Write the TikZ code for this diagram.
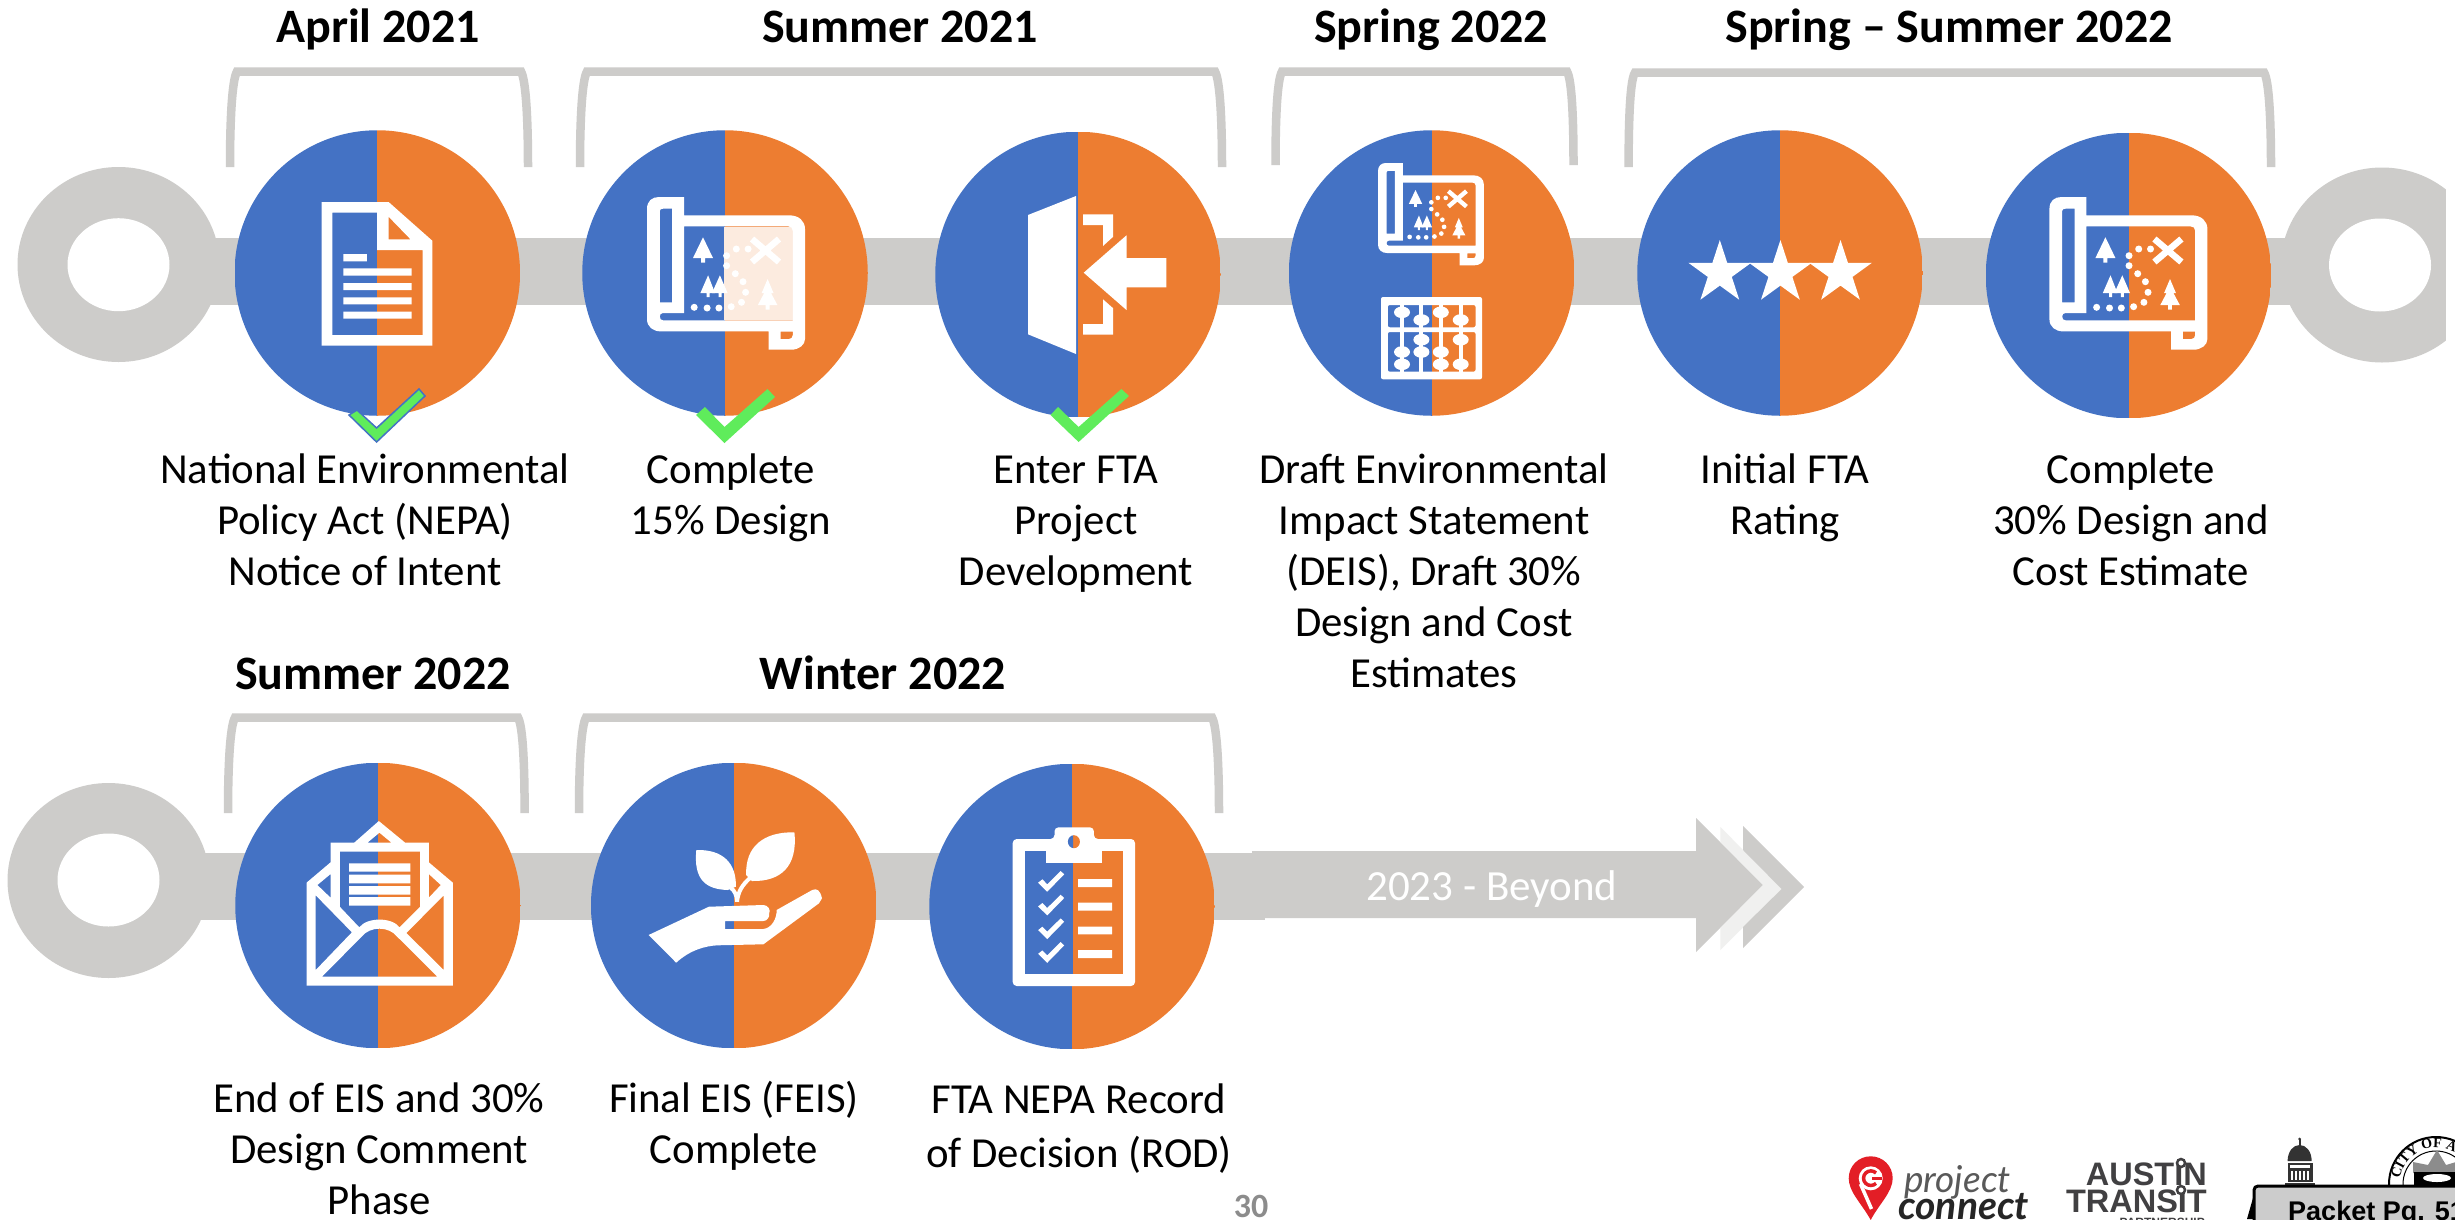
\documentclass[tikz,border=0pt]{standalone}
\usepackage{fontspec}
\setmainfont{Carlito}
\newfontfamily\arialf{Liberation Sans}
\newfontfamily\serifb{Liberation Serif}
\newfontfamily\latof{Lato}
\usetikzlibrary{shapes.geometric,decorations.text}
\definecolor{pcblue}{HTML}{4472C4}
\definecolor{pcorange}{HTML}{ED7D31}
\definecolor{pcgray}{HTML}{CDCCCA}
\definecolor{pcgreen}{HTML}{5FEC5B}
\definecolor{pcpale}{HTML}{FCEBDF}
\definecolor{pcred}{HTML}{E31E26}
\definecolor{pcdark}{HTML}{414042}
\newcommand{\fl}{\rule{0pt}{34pt}}
\tikzset{
  halfdisc/.style={circle,inner sep=0pt,minimum size=285.5pt,path picture={
     \fill[pcblue] (path picture bounding box.south west) rectangle (path picture bounding box.north);
     \fill[pcorange] (path picture bounding box.south) rectangle (path picture bounding box.north east);}},
  bracketline/.style={draw=pcgray,line width=8.5pt},
  bandline/.style={draw=pcgray,line width=67pt},
  ringouter/.style={ellipse,fill=pcgray,inner sep=0pt,minimum width=202pt,minimum height=195pt},
  ringhole/.style={ellipse,fill=white,inner sep=0pt,minimum width=102pt,minimum height=93pt},
  bodytext/.style={font=\fontsize{42.8}{51}\selectfont,align=center,inner sep=0pt,anchor=north,text=black},
  titletext/.style={font=\fontsize{48}{50}\selectfont\bfseries,inner sep=0pt,anchor=base,text=black},
  whitestar/.style={star,star points=5,star point ratio=2.618,fill=white,inner sep=0pt,minimum size=66pt},
  icon/.style={fill=white},
  chk/.style={fill=pcgreen},
}
\newcommand{\mapicon}[3]{%
\begin{scope}[shift={(#1,#2)},scale=#3]
\fill[white,even odd rule]
 (0,12) .. controls (0,4) and (5,0) .. (12,0) -- (37,0) -- (37,18.3) -- (142,18.3) .. controls (152,18.3) and (158,24) .. (158,32) -- (158,142) .. controls (158,148) and (152,152.7) .. (144,152.7) -- (121.7,152.7) -- (121.7,134.4) -- (14,134.4) .. controls (6,134.4) and (0,130) .. (0,122) -- cycle
 (12.8,14) .. controls (12.8,12.5) and (14,11.7) .. (16,11.7) -- (25.2,11.7) -- (25.2,105.3) -- (12.8,105.3) -- cycle
 (37,29.3) -- (141,29.3) .. controls (144,29.3) and (145.8,31) .. (145.8,34) -- (145.8,123.3) -- (16,123.3) .. controls (14,123.3) and (12.8,122) .. (12.8,119.5) .. controls (12.8,117.5) and (14,116) .. (16,116) -- (37,116) -- cycle
 (133.5,134.7) -- (145.8,134.7) -- (145.8,138) .. controls (145.8,140.5) and (144,142) .. (142,142) -- (133.5,142) -- cycle;
\fill[white] (56,40.3) -- (66,61) -- (58,61) -- (58,65.5) -- (54,65.5) -- (54,61) -- (46,61) -- cycle;
\fill[white] (61.1,78.3) -- (68,96) -- (62.6,96) -- (62.6,100) -- (59.6,100) -- (59.6,96) -- (53.4,96) -- cycle;
\fill[white] (72.9,78.3) -- (80.6,96) -- (74.5,96) -- (74.5,100) -- (71.5,100) -- (71.5,96) -- (65,96) -- cycle;
\fill[white] (120.6,82) -- (126.5,96) -- (124,96) -- (130.4,108) -- (122.5,108) -- (122.5,112.7) -- (118.7,112.7) -- (118.7,108) -- (110.9,108) -- (117.2,96) -- (114.7,96) -- cycle;
\pgfmathsetmacro{\xw}{6.5*#3}
\draw[white,line width=\xw pt] (105,42) -- (132,65) (132,42) -- (105,65);
\foreach \dx/\dy in {47.2/110.3,60.1/111,71.9/111,84.2/109.7,94.5/105.3,98.6/95.3,96/84.7,88.3/76.7,79.6/68.7,79.6/58.7,89.3/52,101.1/52}
  \fill[white] (\dx,\dy) circle (3.5);
\end{scope}}
\begin{document}
\begin{tikzpicture}[x=1pt,y=-1pt]
\useasboundingbox (0,0) rectangle (2455,1219);
\clip (0,0) rectangle (2455,1219);
\fill[white] (0,0) rectangle (2455,1219);
% brackets
\draw[bracketline] (230,167) .. controls (230,120) and (232,80) .. (237,71.5) -- (521,71.5) .. controls (526,80) and (528,120) .. (528,167);
\draw[bracketline] (580,167) .. controls (580,120) and (582,80) .. (587,71.5) -- (1215,71.5) .. controls (1220,80) and (1222,120) .. (1222,167);
\draw[bracketline] (1275.5,165) .. controls (1275.5,120) and (1277,80) .. (1282,71.5) -- (1567,71.5) .. controls (1572,80) and (1573.5,120) .. (1573.5,165);
\draw[bracketline] (1628.6,167) .. controls (1628.6,120) and (1630,80) .. (1635,72.5) -- (2264,72.5) .. controls (2269,80) and (2271,120) .. (2271,167);
\draw[bracketline] (228,813) .. controls (228,766) and (230,726) .. (235,717.5) -- (518,717.5) .. controls (523,726) and (524.6,766) .. (524.6,813);
\draw[bracketline] (579,813) .. controls (579,766) and (581,726) .. (586,717.5) -- (1212,717.5) .. controls (1217,726) and (1219,766) .. (1219,813);
% band row 1
\coordinate (b1s) at (190,271.5);
\coordinate (b1e) at (2310,271.5);
\draw[bandline] (b1s) -- (b1e);
\node[ringouter] (ringA) at (118.5,264.5) {};
\node[ringhole] (holeA) at (118.5,264.7) {};
\node[ringouter] (ringB) at (2382,265) {};
\node[ringhole] (holeB) at (2380,265) {};
\fill[white] (2446,100) rectangle (2455,400);
% band row 2 and arrow
\coordinate (b2s) at (180,886.5);
\coordinate (b2e) at (1265,886.5);
\draw[bandline] (b2s) -- (b2e);
\node[ringouter] (ringC) at (108.5,880.5) {};
\node[ringhole] (holeC) at (108.5,880) {};
\fill[pcgray] (1252,851) -- (1696,851) -- (1696,818) -- (1763,885) -- (1696,952) -- (1696,918) -- (1252,918) -- cycle;
\fill[pcgray!30] (1720.4,827) -- (1781.6,889) -- (1720.4,950) -- (1720.4,928) -- (1763,885) -- (1720.4,842) -- cycle;
\fill[pcgray] (1743,826) -- (1804,887) -- (1743,948) -- (1743,927) -- (1781.6,889) -- (1743,850) -- cycle;
\node[font=\fontsize{43}{48}\selectfont,text=white,inner sep=0pt,anchor=base] (beyond) at (1491.8,900) {2023 - Beyond};
% discs
\node[halfdisc] (c1) at (377.3,273) {};
\node[halfdisc] (c2) at (725,273) {};
\node[halfdisc] (c3) at (1078,274.5) {};
\node[halfdisc] (c4) at (1431.6,273) {};
\node[halfdisc] (c5) at (1780,273) {};
\node[halfdisc] (c6) at (2128.5,275.5) {};
\node[halfdisc] (c7) at (378,905.5) {};
\node[halfdisc] (c8) at (733.7,905.5) {};
\node[halfdisc] (c9) at (1072,906.5) {};
% document icon
\fill[white,even odd rule] (321.5,202) -- (388.6,202) -- (432.3,240.7) -- (432.3,345.7) -- (321.5,345.7) -- cycle
 (332.4,212.7) -- (377.2,212.7) -- (377.2,250) -- (422.5,250) -- (422.5,335) -- (332.4,335) -- cycle
 (388.6,216.7) -- (410.5,239.3) -- (388.6,239.3) -- cycle;
\fill[white] (343.3,254) rectangle (366.8,261.3) (343.3,268.3) rectangle (411.6,275.7) (343.3,283) rectangle (411.6,290) (343.3,297.3) rectangle (411.6,304.3) (343.3,311.7) rectangle (411.6,318.7);
% map icons
\fill[pcpale] (724,227) rectangle (792.8,320);
\mapicon{647}{197}{1}
\mapicon{1378}{163}{0.67}
\mapicon{2049.4}{197}{1}
% door icon
\fill[white] (1028,215) -- (1076,196) -- (1076,354) -- (1028,334.3) -- cycle;
\fill[white] (1083,214.3) -- (1113.2,214.3) -- (1113.2,236.7) -- (1103,246) -- (1103,225) -- (1083,225) -- cycle;
\fill[white] (1083,334.7) -- (1113.2,334.7) -- (1113.2,308.3) -- (1103,299.3) -- (1103,324) -- (1083,324) -- cycle;
\fill[white] (1083.7,272.7) -- (1126.5,235.3) -- (1126.5,258) -- (1166.3,258) -- (1166.3,287.3) -- (1126.5,287.3) -- (1126.5,310) -- cycle;
% abacus
\fill[white,even odd rule,rounded corners=2pt] (1381,297) rectangle (1482,379.3) (1387.8,305) rectangle (1475.6,327.3) (1387.8,332) rectangle (1475.6,371.7);
\draw[white,line width=4pt] (1402,300) -- (1402,375) (1421.4,300) -- (1421.4,375) (1440.8,300) -- (1440.8,375) (1460.7,300) -- (1460.7,375);
\foreach \bx/\by in {1402/312.3,1421.4/320,1440.8/312.3,1460.7/320,1421.4/339.7,1460.7/339.7,1402/352,1421.4/352,1440.8/352,1402/364.3,1440.8/364.3,1460.7/364.3}
  \fill[white] (\bx,\by) ellipse (8 and 5.8);
% stars
\node[whitestar] (s1) at (1719.8,273) {};
\node[whitestar] (s2) at (1780.4,273) {};
\node[whitestar] (s3) at (1840.5,273) {};
% envelope
\fill[white,even odd rule] (306.5,882.7) -- (330.6,862.3) -- (330.6,842.7) -- (354.2,842.7) -- (378.8,821) -- (405.2,842.7) -- (428.8,842.7) -- (428.8,862.3) -- (452.9,882.7) -- (452.9,985.7) -- (306.5,985.7) -- cycle
 (367.4,842.7) -- (379.4,832.7) -- (391.5,842.7) -- cycle
 (339.8,851.7) -- (420.2,851.7) -- (420.2,906.7) -- (399.5,927.3) .. controls (392,917) and (367,917) .. (359.3,927.3) -- (339.8,906.7) -- cycle
 (330.6,874) -- (317.4,885) -- (330.6,897.7) -- cycle
 (428.8,874) -- (440.8,885) -- (428.8,897.7) -- cycle
 (315.7,895.3) -- (351.9,932.3) -- (315.7,970) -- cycle
 (443.7,895.3) -- (406.4,933) -- (443.7,970) -- cycle
 (322,976.7) -- (361.6,936.7) .. controls (370,926) and (389,926) .. (397.2,936.7) -- (437.4,976.7) -- cycle;
\fill[white] (349,863.3) rectangle (410.4,871.7) (349,874.7) rectangle (410.4,883.3) (349,886) rectangle (410.4,894.7) (349,897) rectangle (410.4,905.7);
% plant and hand
\fill[white] (648.6,935) -- (708.9,906.7) -- (763.4,905) .. controls (768,905) and (771,910) .. (769.2,913.3) .. controls (770,917) and (767,921) .. (763.4,921) -- (725,921) -- (725,929) -- (763.4,929) .. controls (772,928) and (777,918) .. (776.6,910) -- (812.2,890) .. controls (817,888) and (820,890) .. (822,898.3) -- (819,903.3) -- (763.4,944.3) -- (717.5,945.3) .. controls (705,946) and (690,950) .. (676.2,962.7) -- cycle;
\fill[white] (696.3,850) .. controls (723.2,849.3) and (736.4,863.3) .. (735.9,886.7) -- (727.8,890) .. controls (706,889.3) and (693.4,880) .. (696.3,850) -- cycle;
\fill[white] (794.4,832.3) .. controls (763.4,831.7) and (745,846.7) .. (746.2,875) -- (751.9,881) .. controls (780.6,881.7) and (797.9,866.7) .. (794.4,832.3) -- cycle;
\draw[white,line width=4pt] (737,901.7) .. controls (737,895) and (734,890) .. (731,888);
\draw[white,line width=4pt] (737,901.7) .. controls (738,892) and (742,885) .. (750,878);
% clipboard
\fill[white,rounded corners=4pt] (1012.7,986) -- (1012.7,839) -- (1054.5,839) -- (1054.5,827.3) -- (1093.9,827.3) -- (1093.9,839) -- (1135,839) -- (1135,986) -- cycle;
\fill[pcblue] (1024.8,851) rectangle (1073,974);
\fill[pcorange] (1073,851) rectangle (1123,974);
\fill[white] (1046,845) rectangle (1101.8,863.3);
\begin{scope}
\clip (1073,830) rectangle (1090,855);
\fill[pcorange] (1073.9,841.7) ellipse (6 and 6.5);
\end{scope}
\begin{scope}
\clip (1060,830) rectangle (1073,855);
\fill[pcblue] (1073.9,841.7) ellipse (6 and 6.5);
\end{scope}
\foreach \rowy in {0,23.7,47.4,71.1}
  \fill[white] (1038.1,882.7+\rowy) -- (1042.4,879.3+\rowy) -- (1047.2,884.3+\rowy) -- (1060.6,871+\rowy) -- (1064.2,874.3+\rowy) -- (1047.2,891.7+\rowy) -- cycle;
\fill[white] (1078,879) rectangle (1112,887) (1078,902.7) rectangle (1112,910.7) (1078,926.7) rectangle (1112,934.3) (1078,950) rectangle (1112,958);
% check marks
\fill[chk,draw=pcblue,line width=1.5pt] (349,415) -- (357,410) -- (376.6,428) -- (419,389) -- (425,396) -- (376.6,442) -- cycle;
\fill[chk] (696,415) -- (705,407) -- (724.5,427) -- (767.5,389) -- (775,397) -- (724.5,443) -- cycle;
\fill[chk] (1050.5,415) -- (1058,407) -- (1078.6,427) -- (1121.4,389) -- (1129,396) -- (1078.6,442) -- cycle;
% titles
\node[titletext] (t1) at (378,42) {April 2021};
\node[titletext] (t2) at (900,42) {Summer 2021};
\node[titletext] (t3) at (1431,42) {Spring 2022};
\node[titletext] (t4) at (1949,42) {Spring – Summer 2022};
\node[titletext] (t5) at (373,689) {Summer 2022};
\node[titletext] (t6) at (883,689) {Winter 2022};
% captions
\node[bodytext] (l1) at (365,449) {\fl National Environmental\\Policy Act (NEPA)\\Notice of Intent};
\node[bodytext] (l2) at (731,449) {\fl Complete\\15\% Design};
\node[bodytext] (l3) at (1076,449) {\fl Enter FTA\\Project\\Development};
\node[bodytext] (l4) at (1434,449) {\fl Draft Environmental\\Impact Statement\\(DEIS), Draft 30\%\\Design and Cost\\Estimates};
\node[bodytext] (l5) at (1785,449) {\fl Initial FTA\\Rating};
\node[bodytext] (l6) at (2131,449) {\fl Complete\\30\% Design and\\Cost Estimate};
\node[bodytext] (l7) at (379,1078) {\fl End of EIS and 30\%\\Design Comment\\Phase};
\node[bodytext] (l8) at (734,1078) {\fl Final EIS (FEIS)\\Complete};
\node[bodytext,font=\fontsize{42.8}{54.5}\selectfont] (l9) at (1079,1079) {\fl FTA NEPA Record\\of Decision (ROD)};
% page number
\node[font=\fontsize{34}{36}\selectfont\bfseries,text=black!45,inner sep=0pt,anchor=base] (pageno) at (1251,1217) {30};
% project connect logo
\fill[pcred] (1870.7,1220) .. controls (1862,1204) and (1848.7,1192) .. (1848.7,1178.3) .. controls (1848.7,1166) and (1858.5,1156.3) .. (1870.7,1156.3) .. controls (1883,1156.3) and (1892.7,1166) .. (1892.7,1178.3) .. controls (1892.7,1192) and (1879,1204) .. (1870.7,1220) -- cycle;
\fill[white] (1870.7,1178.3) circle (12);
\draw[white,line width=3.5pt] (1860.5,1184) -- (1871.5,1209);
\draw[pcred,line width=3.5pt] (1876,1173) arc[start angle=-45,end angle=-315,radius=7.3];
\fill[pcred] (1872,1176.8) rectangle (1882,1180);
\node[font=\latof\itshape\fontsize{37}{40}\selectfont,text=black!65,inner sep=0pt,anchor=base west] (pj) at (1904,1192) {project};
\node[font=\latof\itshape\bfseries\fontsize{39}{42}\selectfont,text=black!85,inner sep=0pt,anchor=base west] (cn) at (1898,1219) {connect};
% austin transit logo
\node[font=\arialf\bfseries\fontsize{32.5}{34}\selectfont,text=pcdark,inner sep=0pt,anchor=base east] (at1) at (2207,1185) {AUSTIN};
\node[font=\arialf\bfseries\fontsize{32.5}{34}\selectfont,text=pcdark,inner sep=0pt,anchor=base east] (at2) at (2207,1212) {TRANSIT};
\node[font=\arialf\bfseries\fontsize{12}{14}\selectfont,text=pcdark,inner sep=0pt,anchor=base east] (at3) at (2205,1226) {PARTNERSHIP};
\draw[pcdark,line width=2.5pt,fill=white] (2181,1163) circle (4);
\draw[pcdark,line width=2.5pt,fill=white] (2181,1190) circle (4);
% capitol
\fill[black!80] (2299.7,1139) circle (1.5);
\fill[black!80] (2298.7,1139) rectangle (2300.7,1146);
\fill[black!80] (2287.5,1161) .. controls (2288,1151) and (2293,1145) .. (2299.7,1145) .. controls (2306,1145) and (2311.5,1151) .. (2311.7,1161) -- cycle;
\fill[black!80] (2287.5,1162.5) rectangle (2312.5,1182);
\fill[black!80] (2285,1183) rectangle (2315,1186);
\fill[white] (2290,1165) rectangle (2310,1167.5);
\foreach \wx in {2291,2295,2299,2303,2307}
  \fill[white] (\wx,1171) rectangle (\wx+2,1180);
% seal
\draw[black,line width=2pt] (2436,1184) circle (47);
\draw[black,line width=1pt] (2436,1184) circle (33);
\fill[black!45] (2413,1162) -- (2428,1165) -- (2437,1150) -- (2446,1165) -- (2456,1162) -- (2456,1173) -- (2413,1173) -- cycle;
\fill[black] (2414,1172) rectangle (2456,1186);
\fill[white] (2437,1178) ellipse (14 and 4);
\begin{scope}[shift={(2436,1184)},y=1pt]
\path[decorate,decoration={text along path,text align={left},text={|\serifb\bfseries\fontsize{14}{14}\selectfont|CITY OF AUSTIN}}] (172:36.5) arc[start angle=172,end angle=-20,radius=36.5];
\end{scope}
% packet box
\fill[black] (2247,1219) -- (2253,1198) -- (2253,1219) -- cycle;
\fill[black!20,draw=black,line width=3pt,rounded corners=4pt] (2254,1186) rectangle (2480,1240);
\node[font=\arialf\bfseries\fontsize{27}{30}\selectfont,text=black,inner sep=0pt,anchor=base west] (pkt) at (2288,1220) {Packet Pg. 51};
\end{tikzpicture}
\end{document}
